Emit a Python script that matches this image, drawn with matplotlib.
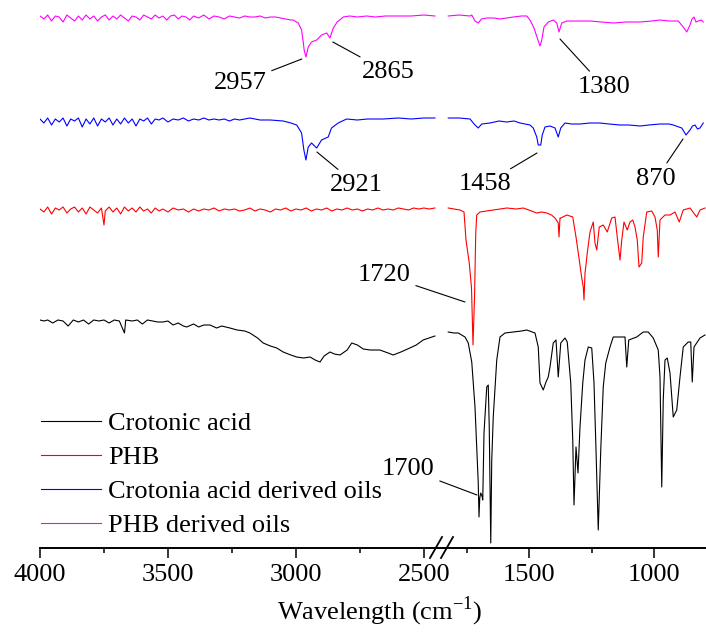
""" FTIR spectra of crotonic acid, PHB and their derived oils (broken x axis) """

import matplotlib.pyplot as plt
from matplotlib.lines import Line2D
import numpy as np

plt.rcParams['font.family'] = ['Liberation Serif', 'DejaVu Serif']
plt.rcParams['mathtext.fontset'] = 'custom'
plt.rcParams['mathtext.rm'] = 'Liberation Serif'

# spectra, stacked (a.u.), high-wavenumber part and fingerprint part
croton_left_wn = [4000, 3985, 3970, 3950, 3930, 3910, 3890, 3870, 3850, 3830, 3810, 3790, 3770, 3750, 3730,
                  3710, 3690, 3670, 3665, 3640, 3620, 3600, 3580, 3560, 3540, 3520, 3500, 3480, 3460, 3440,
                  3427, 3400, 3380, 3360, 3336, 3310, 3290, 3258, 3230, 3200, 3180, 3150, 3128, 3100, 3075,
                  3050, 3020, 2997, 2970, 2945, 2925, 2906, 2890, 2867, 2850, 2828, 2800, 2782, 2760, 2737,
                  2710, 2672, 2640, 2620, 2590, 2555, 2530, 2503, 2480, 2457]
croton_left = [228, 227, 228, 225, 228, 227, 222, 228, 226, 228, 224, 228, 227, 228, 225,
               228, 227, 215, 228, 227, 228, 224, 228, 227, 226, 226, 227, 223, 225, 222,
               221, 224, 221, 223, 223, 220, 222, 220, 218, 217, 215, 210, 205, 202, 200,
               196, 193, 191, 190, 191, 188, 186, 192, 196, 194, 193, 198, 205, 203, 199,
               198, 198, 195, 193, 196, 200, 203, 208, 210, 212]
croton_right_wn = [1823, 1800, 1783, 1756, 1743, 1729, 1716, 1703, 1700, 1697, 1693, 1688, 1685, 1680, 1669,
                   1663, 1659, 1653, 1649, 1643, 1629, 1616, 1596, 1563, 1530, 1509, 1476, 1463, 1456, 1443,
                   1432, 1423, 1416, 1403, 1392, 1383, 1373, 1356, 1347, 1333, 1325, 1320, 1312, 1304, 1296,
                   1285, 1276, 1263, 1249, 1240, 1232, 1223, 1213, 1203, 1193, 1176, 1163, 1136, 1116, 1109,
                   1101, 1069, 1043, 1023, 1003, 983, 976, 969, 963, 956, 947, 936, 923, 909, 896,
                   883, 863, 853, 847, 840, 816, 796]
croton_right = [216, 215, 215, 211, 205, 186, 141, 65, 31, 50, 55, 52, 48, 115, 161,
                163, 121, 5, 88, 131, 188, 211, 215, 216, 217, 218, 215, 201, 165, 158,
                166, 171, 181, 205, 208, 171, 205, 210, 206, 165, 108, 43, 101, 75, 121,
                165, 188, 201, 200, 165, 98, 18, 98, 161, 185, 201, 211, 211, 211, 181,
                208, 211, 216, 216, 210, 198, 171, 61, 148, 188, 190, 175, 131, 138, 171,
                201, 206, 206, 166, 201, 210, 213]

phb_left_wn = [4000, 3985, 3970, 3955, 3940, 3925, 3910, 3895, 3880, 3865, 3850, 3835, 3820, 3805, 3790,
               3775, 3760, 3750, 3745, 3730, 3715, 3700, 3685, 3670, 3655, 3640, 3625, 3610, 3595, 3580,
               3565, 3550, 3535, 3520, 3500, 3480, 3460, 3440, 3420, 3400, 3380, 3360, 3340, 3320, 3300,
               3280, 3260, 3240, 3220, 3200, 3180, 3160, 3140, 3120, 3100, 3080, 3060, 3040, 3020, 3000,
               2980, 2960, 2940, 2920, 2900, 2880, 2860, 2840, 2820, 2800, 2780, 2760, 2740, 2720, 2700,
               2680, 2660, 2640, 2620, 2600, 2580, 2560, 2540, 2520, 2500, 2480, 2457]
phb_left = [339, 336, 341, 334, 340, 338, 341, 335, 339, 341, 336, 340, 334, 341, 338,
            335, 340, 323, 337, 341, 336, 340, 334, 341, 337, 340, 336, 341, 337, 339,
            335, 340, 337, 339, 336, 340, 338, 339, 336, 339, 337, 339, 338, 340, 337,
            339, 338, 339, 337, 338, 340, 337, 339, 338, 336, 339, 338, 340, 337, 339,
            338, 340, 337, 339, 338, 340, 337, 339, 338, 340, 338, 339, 337, 339, 338,
            340, 338, 339, 338, 340, 339, 338, 340, 339, 340, 339, 340]
phb_right_wn = [1823, 1800, 1776, 1760, 1752, 1739, 1730, 1724, 1718, 1713, 1709, 1696, 1670, 1643, 1615,
                1589, 1550, 1523, 1490, 1469, 1450, 1429, 1410, 1396, 1383, 1380, 1376, 1373, 1349, 1325,
                1312, 1299, 1289, 1283, 1280, 1276, 1273, 1267, 1256, 1243, 1236, 1229, 1219, 1203, 1187,
                1169, 1156, 1147, 1136, 1129, 1120, 1107, 1096, 1085, 1076, 1067, 1060, 1049, 1043, 1029,
                1009, 996, 987, 983, 976, 956, 936, 916, 899, 883, 856, 829, 816, 796]
phb_right = [340, 339, 338, 336, 308, 285, 260, 203, 250, 315, 333, 336, 337, 338, 339,
             340, 339, 340, 337, 335, 336, 335, 333, 330, 325, 311, 330, 330, 333, 331,
             311, 288, 270, 261, 248, 275, 281, 295, 316, 326, 305, 298, 321, 323, 316,
             330, 331, 311, 288, 308, 326, 318, 326, 328, 321, 308, 281, 285, 311, 336,
             337, 331, 318, 291, 328, 333, 333, 336, 326, 338, 340, 331, 338, 340]

coil_left_wn = [4000, 3985, 3970, 3955, 3940, 3925, 3910, 3895, 3880, 3865, 3850, 3835, 3820, 3805, 3790,
                3775, 3760, 3745, 3730, 3715, 3700, 3685, 3670, 3655, 3640, 3625, 3610, 3595, 3580, 3565,
                3550, 3535, 3520, 3500, 3480, 3460, 3440, 3420, 3400, 3380, 3360, 3340, 3320, 3300, 3280,
                3260, 3240, 3220, 3200, 3180, 3140, 3100, 3050, 3020, 2997, 2978, 2969, 2961, 2952, 2939,
                2919, 2900, 2874, 2861, 2835, 2802, 2760, 2720, 2659, 2600, 2550, 2500, 2457]
coil_left = [429, 425, 430, 423, 429, 426, 430, 422, 429, 427, 430, 421, 429, 424, 430,
             422, 429, 426, 430, 423, 429, 424, 430, 425, 429, 422, 429, 427, 430, 424,
             429, 428, 430, 426, 429, 428, 430, 427, 429, 428, 430, 428, 429, 428, 429,
             427, 429, 428, 429, 430, 428, 428, 427, 425, 423, 415, 398, 388, 401, 405,
             400, 408, 411, 420, 425, 429, 428, 429, 429, 430, 429, 430, 430]
coil_right_wn = [1823, 1780, 1736, 1716, 1703, 1689, 1656, 1620, 1589, 1560, 1536, 1496, 1483, 1469, 1463,
                 1453, 1447, 1436, 1416, 1396, 1383, 1373, 1356, 1330, 1296, 1256, 1216, 1180, 1136, 1100,
                 1056, 1020, 976, 940, 923, 889, 872, 856, 846, 836, 826, 816, 803]
coil_right = [430, 430, 429, 423, 420, 424, 425, 427, 426, 427, 425, 423, 420, 411, 403,
              403, 413, 421, 422, 420, 411, 420, 425, 424, 424, 425, 425, 424, 423, 423,
              422, 423, 424, 424, 423, 420, 413, 418, 422, 423, 419, 420, 425]

poil_left_wn = [4000, 3985, 3970, 3955, 3940, 3925, 3910, 3895, 3880, 3865, 3850, 3835, 3820, 3805, 3790,
                3775, 3760, 3745, 3730, 3715, 3700, 3685, 3670, 3655, 3640, 3625, 3610, 3595, 3580, 3565,
                3550, 3535, 3520, 3505, 3490, 3475, 3460, 3445, 3430, 3415, 3400, 3380, 3360, 3340, 3320,
                3300, 3280, 3260, 3240, 3220, 3200, 3180, 3160, 3140, 3120, 3100, 3080, 3060, 3040, 3020,
                3011, 2991, 2978, 2971, 2968, 2961, 2952, 2939, 2919, 2900, 2880, 2867, 2854, 2839, 2815,
                2790, 2760, 2724, 2690, 2650, 2594, 2550, 2500, 2457]
poil_left = [532, 529, 533, 527, 532, 531, 526, 533, 530, 527, 532, 528, 533, 529, 532,
             527, 531, 533, 528, 532, 529, 533, 530, 527, 532, 531, 528, 533, 531, 529,
             533, 530, 532, 528, 532, 533, 529, 532, 531, 528, 532, 530, 533, 529, 532,
             531, 529, 532, 531, 530, 532, 531, 531, 532, 530, 531, 531, 530, 529, 528,
             528, 525, 518, 505, 498, 491, 501, 506, 508, 513, 515, 510, 520, 526, 531,
             532, 531, 532, 531, 532, 532, 532, 533, 532]
poil_right_wn = [1823, 1780, 1736, 1729, 1716, 1703, 1690, 1669, 1640, 1616, 1590, 1563, 1530, 1509, 1496,
                 1480, 1467, 1456, 1449, 1440, 1423, 1403, 1389, 1380, 1369, 1349, 1300, 1256, 1210, 1163,
                 1110, 1056, 1010, 976, 940, 903, 883, 869, 856, 848, 840, 832, 823, 810, 803]
poil_right = [532, 533, 532, 533, 527, 525, 529, 530, 530, 529, 530, 531, 532, 532, 528,
              520, 510, 502, 508, 521, 526, 528, 525, 516, 525, 527, 527, 527, 526, 525,
              526, 526, 527, 528, 527, 527, 521, 516, 523, 529, 531, 526, 527, 528, 526]

labels = ["Crotonic acid", "PHB", "Crotonia acid derived oils", "PHB derived oils"]
colors = ["black", "red", "blue", "magenta"]

fig = plt.figure(figsize=(7.06, 6.35), dpi=100)
W, H = 706, 635
ax1 = fig.add_axes([40 / W, 87 / H, 398 / W, 548 / H])
ax2 = fig.add_axes([438 / W, 87 / H, 268 / W, 548 / H])

left_sets = [(croton_left_wn, croton_left), (phb_left_wn, phb_left),
             (coil_left_wn, coil_left), (poil_left_wn, poil_left)]
right_sets = [(croton_right_wn, croton_right), (phb_right_wn, phb_right),
              (coil_right_wn, coil_right), (poil_right_wn, poil_right)]

for (wn, val), c, lab in zip(left_sets, colors, labels):
    ax1.plot(wn, val, color=c, lw=0.8, label=lab)
for (wn, val), c in zip(right_sets, colors):
    ax2.plot(wn, val, color=c, lw=0.8)

ax1.set_xlim(4000, 2445)
ax2.set_xlim(1864, 792)
for ax in (ax1, ax2):
    ax.set_ylim(0, 548)
    ax.patch.set_visible(False)
    for s in ('top', 'left', 'right'):
        ax.spines[s].set_visible(False)
    ax.spines['bottom'].set_linewidth(1.4)
    ax.set_yticks([])
    ax.tick_params(axis='x', which='major', direction='out', length=7.5, width=1.1,
                   labelsize=19, pad=4)
    ax.tick_params(axis='x', which='minor', direction='out', length=3.8, width=1.1)

ax1.set_xticks([4000, 3500, 3000, 2500])
ax1.set_xticks([3750, 3250, 2750], minor=True)
ax2.set_xticks([1500, 1000])
ax2.set_xticks([1750, 1250], minor=True)

# axis break marks
for dx in (0, 11):
    fig.add_artist(Line2D([(430 + dx) / W, (442 + dx) / W], [1 - 558 / H, 1 - 537 / H],
                          color='black', lw=1.3))

fig.text(380 / W, 1 - 611 / H, r"Wavelength (cm$^{\mathregular{-1}}$)", ha='center', va='center',
         fontsize=19)

# peak labels
line = dict(arrowstyle='-', color='black', lw=0.8, shrinkA=2, shrinkB=0)
ax1.annotate("2957", xy=(2977, 489), xytext=(3219, 465), ha='center', va='center',
             fontsize=19, arrowprops=line)
ax1.annotate("2865", xy=(2856, 506), xytext=(2641, 476), ha='center', va='center',
             fontsize=19, arrowprops=line)
ax1.annotate("2921", xy=(2918, 396), xytext=(2762, 363), ha='center', va='center',
             fontsize=19, arrowprops=line)
ax2.annotate("1380", xy=(1376, 509), xytext=(1200, 461), ha='center', va='center',
             fontsize=19, arrowprops=line)
ax2.annotate("1458", xy=(1468, 395), xytext=(1676, 364), ha='center', va='center',
             fontsize=19, arrowprops=line)
ax2.annotate("870", xy=(884, 409), xytext=(992, 369), ha='center', va='center',
             fontsize=19, arrowprops=line)
ax2.annotate("1720", xy=(1756, 246), xytext=(2080, 273), ha='center', va='center',
             fontsize=19, arrowprops=line, annotation_clip=False)
ax2.annotate("1700", xy=(1708, 53), xytext=(1984, 79), ha='center', va='center',
             fontsize=19, arrowprops=line, annotation_clip=False)

ax1.legend(loc='upper left', bbox_to_anchor=(41 / W, 1 - 412 / H), bbox_transform=fig.transFigure,
           frameon=False, fontsize=19, handlelength=2.27, handletextpad=0.27,
           labelspacing=0.39, borderpad=0, borderaxespad=0)

plt.savefig("out.png", dpi=100)
